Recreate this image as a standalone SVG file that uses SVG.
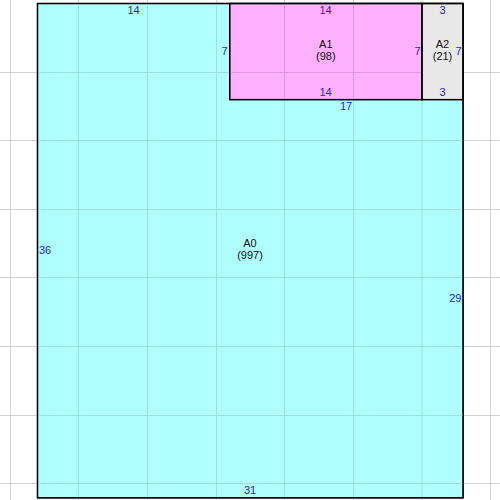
<svg xmlns="http://www.w3.org/2000/svg" width="500" height="500" viewBox="0 0 500 500">
<style>
.dim{font-family:"Liberation Sans",Arial,sans-serif;font-size:11px;fill:#2222ee}
.lbl{font-family:"Liberation Sans",Arial,sans-serif;font-size:11px;fill:#111;text-anchor:middle}
.c{text-anchor:middle}
.e{text-anchor:end}
.box{stroke:#000;stroke-width:1.3}
.outline{fill:none;stroke:#000;stroke-width:1.3}
</style>
<defs>
<g id="gl" stroke-width="1">
<line x1="10.5" y1="0" x2="10.5" y2="500"/>
<line x1="78.5" y1="0" x2="78.5" y2="500"/>
<line x1="147.5" y1="0" x2="147.5" y2="500"/>
<line x1="216.5" y1="0" x2="216.5" y2="500"/>
<line x1="284.5" y1="0" x2="284.5" y2="500"/>
<line x1="353.5" y1="0" x2="353.5" y2="500"/>
<line x1="422" y1="0" x2="422" y2="500"/>
<line x1="490.5" y1="0" x2="490.5" y2="500"/>
<line x1="0" y1="72.5" x2="500" y2="72.5"/>
<line x1="0" y1="140.5" x2="500" y2="140.5"/>
<line x1="0" y1="209.5" x2="500" y2="209.5"/>
<line x1="0" y1="277.5" x2="500" y2="277.5"/>
<line x1="0" y1="346.5" x2="500" y2="346.5"/>
<line x1="0" y1="415.5" x2="500" y2="415.5"/>
<line x1="0" y1="483.5" x2="500" y2="483.5"/>
</g>
<clipPath id="cA0"><path d="M37.5 3.5H229.7V99.6H463.1V497.8H37.5Z"/></clipPath>
<clipPath id="cA1"><rect x="229.7" y="3.5" width="192.2" height="96.1"/></clipPath>
</defs>
<rect width="500" height="500" fill="#fff"/>
<use href="#gl" stroke="#d2d2d2"/>
<g id="A0">
<rect class="box" x="37.5" y="3.5" width="425.6" height="494.3" fill="#b0ffff"/>
<use href="#gl" stroke="#9de0e0" clip-path="url(#cA0)"/>
<text class="lbl" x="250" y="247">A0</text>
<text class="lbl" x="250" y="259">(997)</text>
<text class="dim c" x="133.5" y="14">14</text>
<text class="dim" x="39" y="254">36</text>
<text class="dim e" x="461.5" y="302">29</text>
<text class="dim c" x="250" y="494">31</text>
<text class="dim c" x="346" y="110">17</text>
</g>
<g id="A1">
<rect class="box" x="229.7" y="3.5" width="192.2" height="96.1" fill="#ffb0ff"/>
<use href="#gl" stroke="#dc98e2" clip-path="url(#cA1)"/>
<text class="lbl" x="325.8" y="48">A1</text>
<text class="lbl" x="325.8" y="60">(98)</text>
<text class="dim c" x="325.5" y="14">14</text>
<text class="dim c" x="325.5" y="96">14</text>
<text class="dim e" x="227.5" y="55">7</text>
<text class="dim e" x="420.5" y="55">7</text>
</g>
<g id="A2">
<rect class="box" x="421.9" y="3.5" width="41.2" height="96.1" fill="#e8e8e8"/>
<text class="lbl" x="442.5" y="48">A2</text>
<text class="lbl" x="442.5" y="60">(21)</text>
<text class="dim c" x="442.5" y="14">3</text>
<text class="dim c" x="442.5" y="96">3</text>
<text class="dim e" x="461.5" y="55">7</text>
</g>
<g id="connectors">
<rect class="outline" x="37.5" y="3.5" width="425.6" height="494.3"/>
<rect class="outline" x="229.7" y="3.5" width="192.2" height="96.1"/>
<rect class="outline" x="421.9" y="3.5" width="41.2" height="96.1"/>
</g>
</svg>
